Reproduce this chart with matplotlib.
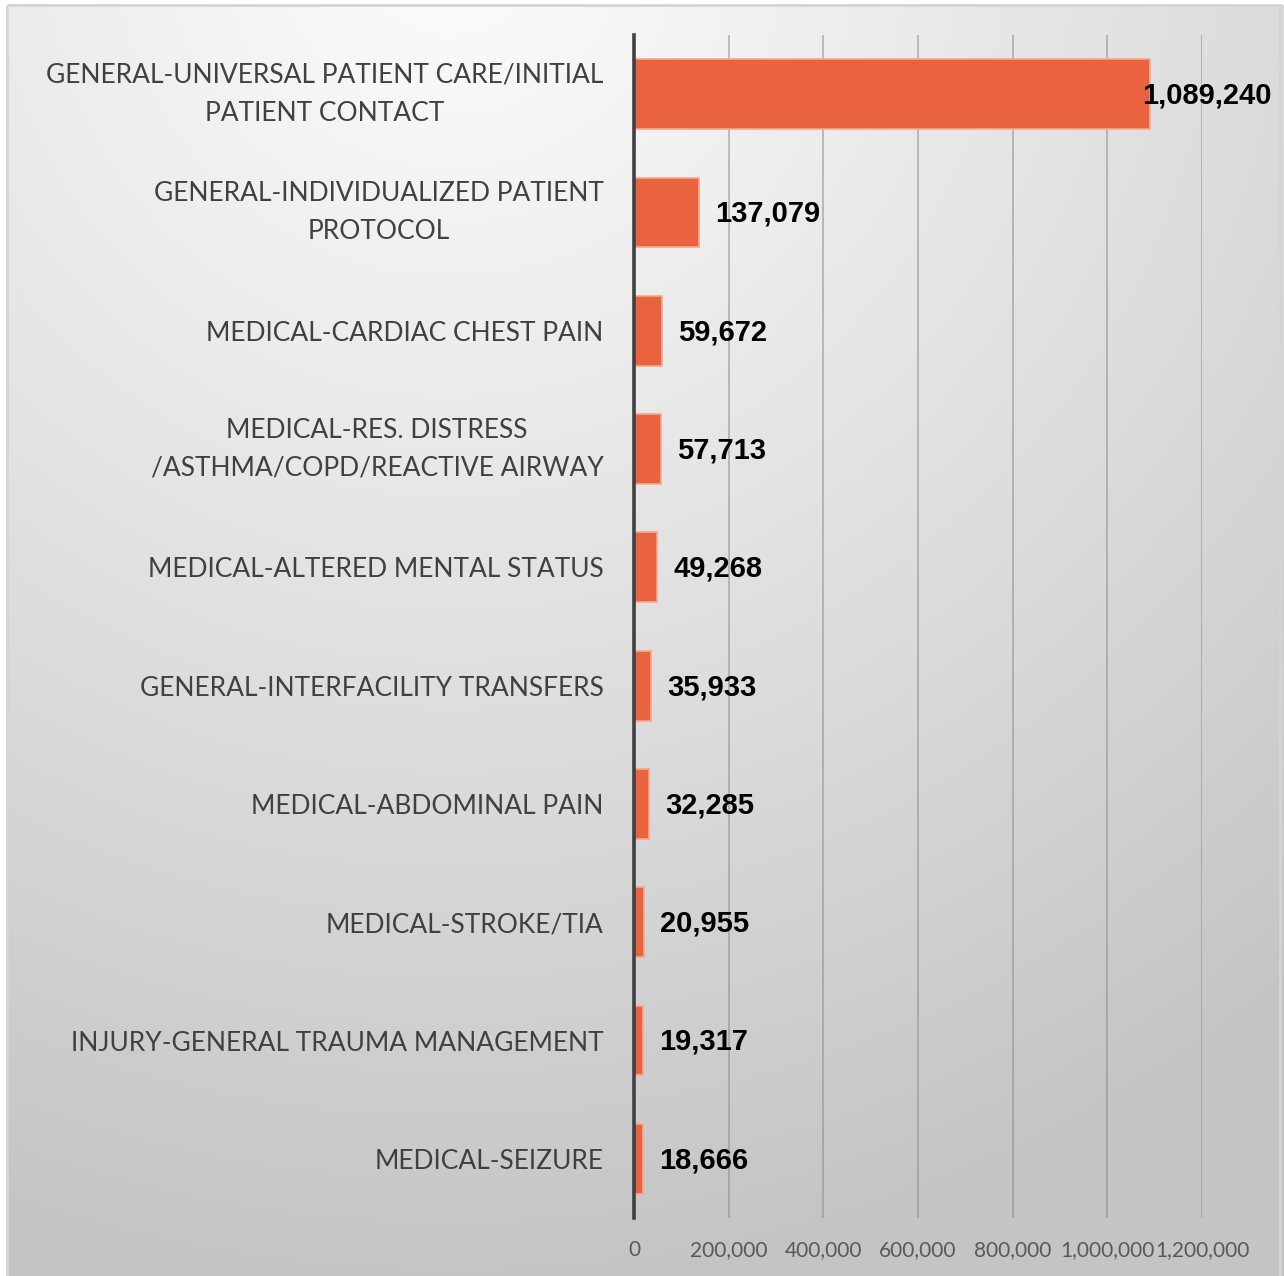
import numpy as np
import matplotlib
matplotlib.use("Agg")
import matplotlib.pyplot as plt
from matplotlib.patches import Rectangle

plt.rcParams['font.family'] = ['Lato', 'Liberation Sans', 'DejaVu Sans']

categories = [
    "GENERAL-UNIVERSAL PATIENT CARE/INITIAL\nPATIENT CONTACT",
    "GENERAL-INDIVIDUALIZED PATIENT\nPROTOCOL",
    "MEDICAL-CARDIAC CHEST PAIN",
    "MEDICAL-RES. DISTRESS\n/ASTHMA/COPD/REACTIVE AIRWAY",
    "MEDICAL-ALTERED MENTAL STATUS",
    "GENERAL-INTERFACILITY TRANSFERS",
    "MEDICAL-ABDOMINAL PAIN",
    "MEDICAL-STROKE/TIA",
    "INJURY-GENERAL TRAUMA MANAGEMENT",
    "MEDICAL-SEIZURE",
]
values = [1089240, 137079, 59672, 57713, 49268, 35933, 32285, 20955, 19317, 18666]
xticks = [0, 200000, 400000, 600000, 800000, 1000000, 1200000]
xticklabels = ["0", "200,000", "400,000", "600,000", "800,000", "1,000,000", "1,200,000"]

W, H = 1284, 1276
fig = plt.figure(figsize=(W / 100, H / 100), dpi=100)

# background gradient
bg = fig.add_axes([0, 0, 1, 1], zorder=0)
yy, xx = np.mgrid[0:H, 0:W]
d = np.hypot(xx - 450, (yy + 60) * 1.0)
v = 252 - 56 * np.clip(d / 1350, 0, 1) ** 1.1
img = np.dstack([v, v, v]) / 255.0
img[:, :7] = 1.0
img[:5, :] = 1.0
bg.imshow(img, extent=[0, W, H, 0], aspect='auto', interpolation='bilinear')
bg.add_patch(Rectangle((7, 5), W - 11, H, fill=False, edgecolor='#d4d4d4', lw=2))
bg.set_xlim(0, W)
bg.set_ylim(H, 0)
bg.axis('off')

ax = fig.add_axes([634 / W, 1 - 1218 / H, (1202 - 634) / W, (1218 - 35) / H], zorder=1)
ax.patch.set_alpha(0)
y = np.arange(len(categories))
ax.barh(y, values, height=0.59, color='#E9633F', edgecolor='#F3A98F', linewidth=1.2, zorder=3)
ax.set_ylim(len(categories) - 0.5, -0.5)
ax.set_xlim(0, 1200000)
ax.set_xticks(xticks)
ax.set_xticklabels(xticklabels, fontsize=15, color='#595959')
ax.set_yticks(y)
ax.set_yticklabels(categories, fontsize=19, color='#404040', linespacing=1.65)
for lbl in ax.get_yticklabels():
    lbl.set_multialignment('center')
    if "\n" in lbl.get_text():
        lbl.set_verticalalignment('center')
ax.tick_params(axis='x', length=0, pad=16)
ax.tick_params(axis='y', length=0, pad=22)
ax.grid(axis='x', color='#8a8a8a', alpha=0.6, lw=1.2, zorder=1)
for s in ['top', 'right', 'bottom']:
    ax.spines[s].set_visible(False)
ax.spines['left'].set_color('#404040')
ax.spines['left'].set_linewidth(2.6)
ax.spines['left'].set_zorder(4)

for i, val in enumerate(values):
    off = -7 if val == max(values) else 16
    ax.annotate(f"{val:,}", (val, i), xytext=(off * 0.72, -1), textcoords='offset points',
                ha='left', va='center', fontsize=21, fontweight='bold', color='black',
                family=['Liberation Sans', 'DejaVu Sans'], zorder=5)

fig.savefig('out.png', dpi=100)
